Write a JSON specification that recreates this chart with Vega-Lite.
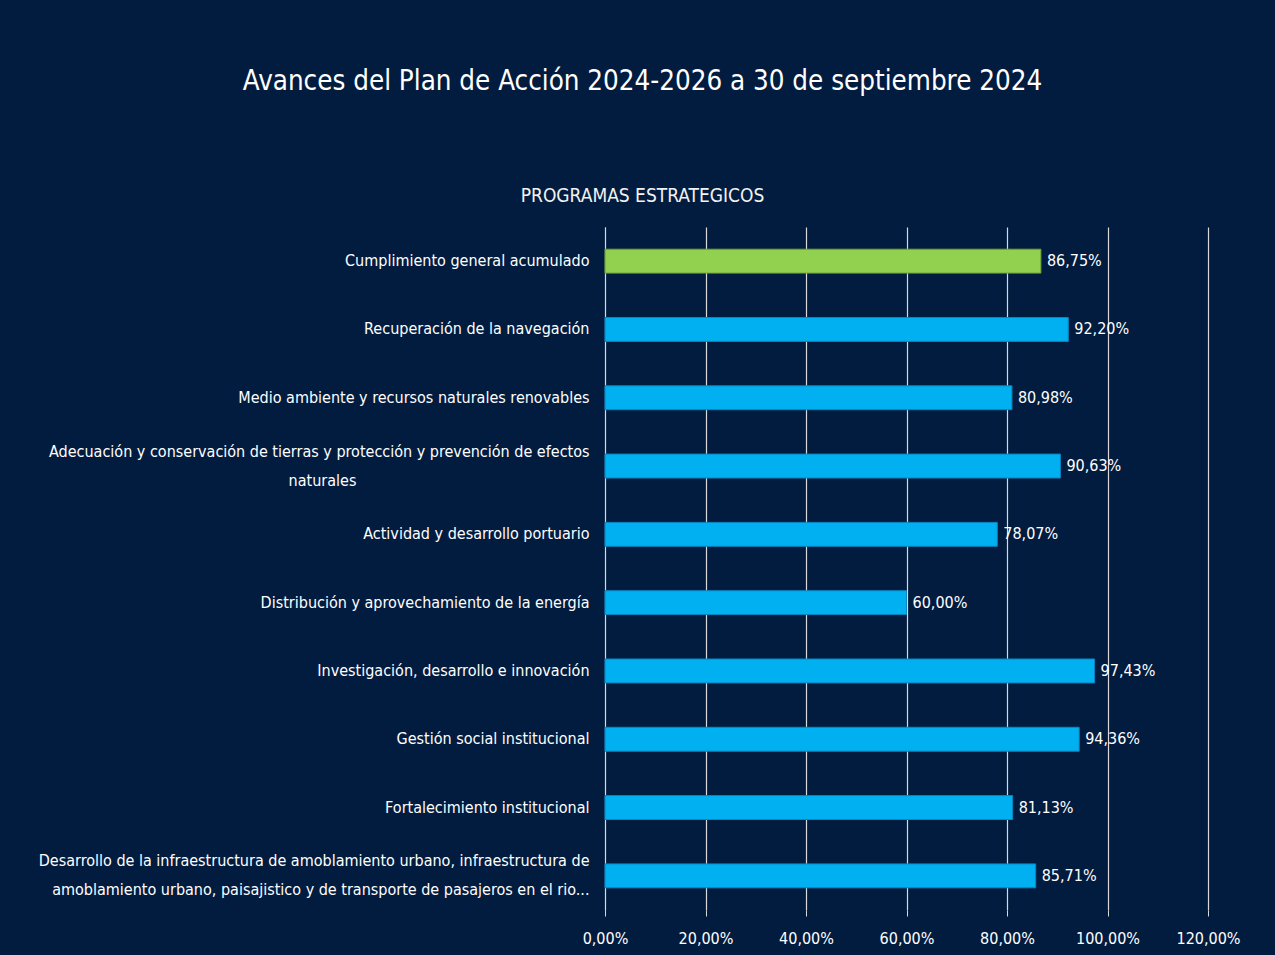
{
  "$schema": "https://vega.github.io/schema/vega-lite/v6.json",
  "autosize": "none",
  "width": 603,
  "height": 683,
  "padding": {"left": 605, "top": 227, "right": 67, "bottom": 45},
  "background": "#021c3f",
  "config": {
    "view": {"stroke": null},
    "locale": {"number": {"decimal": ",", "thousands": ".", "grouping": [3], "currency": ["", " €"]}},
    "font": "DejaVu Sans Condensed"
  },
  "title": {
    "text": "Avances del Plan de Acción 2024-2026  a 30 de septiembre 2024",
    "subtitle": "PROGRAMAS ESTRATEGICOS",
    "anchor": "middle",
    "frame": "group",
    "dx": -264,
    "offset": 21,
    "font": "DejaVu Sans Condensed",
    "fontSize": 27.5,
    "fontWeight": "normal",
    "color": "#ffffff",
    "subtitleFont": "DejaVu Sans Condensed",
    "subtitleFontSize": 19,
    "subtitleColor": "#f2f2f2",
    "subtitlePadding": 92
  },
  "data": {
    "values": [
      {"programa": "Cumplimiento general acumulado", "avance": 0.8675, "tipo": "general"},
      {"programa": "Recuperación de la navegación", "avance": 0.922, "tipo": "programa"},
      {"programa": "Medio ambiente y recursos naturales renovables", "avance": 0.8098, "tipo": "programa"},
      {"programa": "Adecuación y conservación de tierras y protección y prevención de efectos|naturales", "avance": 0.9063, "tipo": "programa"},
      {"programa": "Actividad y desarrollo portuario", "avance": 0.7807, "tipo": "programa"},
      {"programa": "Distribución y aprovechamiento de la energía", "avance": 0.6, "tipo": "programa"},
      {"programa": "Investigación, desarrollo e innovación", "avance": 0.9743, "tipo": "programa"},
      {"programa": "Gestión social institucional", "avance": 0.9436, "tipo": "programa"},
      {"programa": "Fortalecimiento institucional", "avance": 0.8113, "tipo": "programa"},
      {"programa": "Desarrollo de la infraestructura de amoblamiento urbano, infraestructura de|amoblamiento urbano, paisajistico y de transporte de pasajeros en el rio...", "avance": 0.8571, "tipo": "programa"}
    ]
  },
  "encoding": {
    "y": {
      "field": "programa",
      "type": "nominal",
      "sort": null,
      "scale": {"paddingInner": 0.65, "paddingOuter": 0.325},
      "axis": {
        "title": null,
        "labelExpr": "indexof(datum.value, '|') >= 0 ? [split(datum.value, '|')[0], pad(split(datum.value, '|')[1], length(split(datum.value, '|')[1]) + max(0, round((length(split(datum.value, '|')[0]) - length(split(datum.value, '|')[1])) * 0.8)), '\u00a0') + '\u200b'] : datum.value",
        "labelFont": "DejaVu Sans Condensed",
        "labelFontSize": 16,
        "labelColor": "#ffffff",
        "labelLimit": 0,
        "labelPadding": 16,
        "labelLineHeight": 29,
        "labelOffset": {"condition": {"test": "indexof(datum.value, '|') >= 0", "value": -14.5}, "value": 0},
        "ticks": false,
        "domain": true,
        "domainColor": "#d9d9d9",
        "domainWidth": 1,
        "grid": false
      }
    },
    "x": {
      "field": "avance",
      "type": "quantitative",
      "scale": {"domain": [0, 1.2], "nice": false},
      "axis": {
        "title": null,
        "values": [0, 0.2, 0.4, 0.6, 0.8, 1.0, 1.2],
        "format": ".2%",
        "labelFont": "DejaVu Sans Condensed",
        "labelFontSize": 16,
        "labelColor": "#ffffff",
        "labelPadding": 14,
        "labelOverlap": false,
        "labelFlush": false,
        "domain": false,
        "ticks": true,
        "tickSize": 6,
        "tickColor": "#d9d9d9",
        "grid": true,
        "gridColor": "#d9d9d9",
        "gridWidth": 1.2
      }
    }
  },
  "layer": [
    {
      "mark": {"type": "bar", "strokeWidth": 1},
      "encoding": {
        "color": {
          "field": "tipo",
          "type": "nominal",
          "scale": {"domain": ["general", "programa"], "range": ["#92d050", "#00b0f0"]},
          "legend": null
        },
        "stroke": {
          "field": "tipo",
          "type": "nominal",
          "scale": {"domain": ["general", "programa"], "range": ["#6a9e3a", "#0a86c0"]},
          "legend": null
        }
      }
    },
    {
      "mark": {"type": "text", "align": "left", "baseline": "middle", "dx": 6, "font": "DejaVu Sans Condensed", "fontSize": 16, "color": "#ffffff"},
      "encoding": {
        "text": {"field": "avance", "type": "quantitative", "format": ".2%"}
      }
    }
  ]
}
